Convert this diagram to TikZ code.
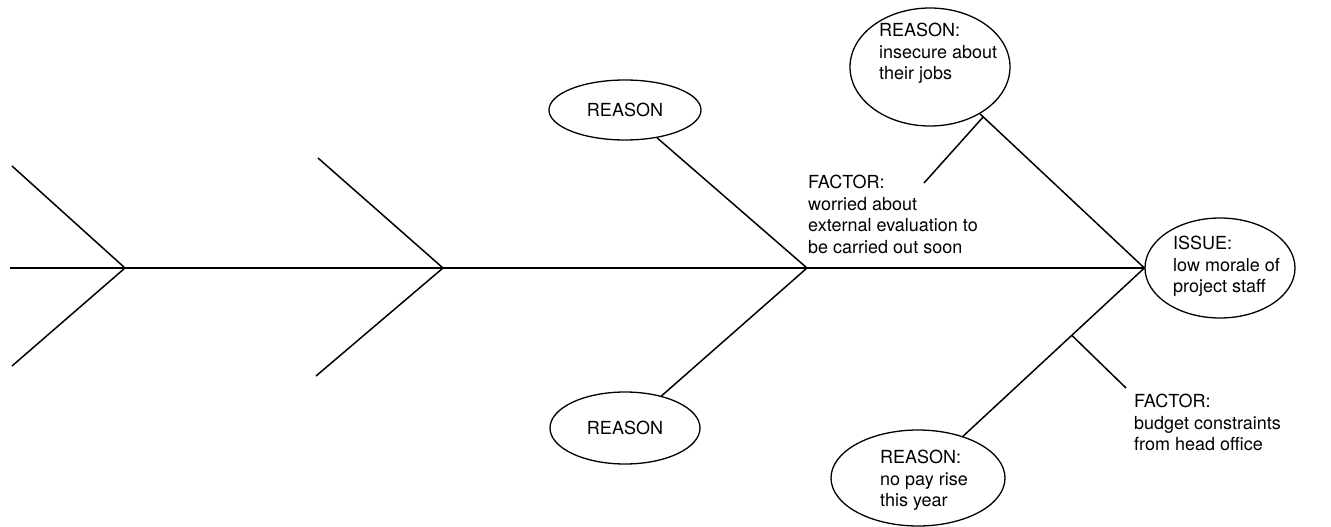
\documentclass[tikz,border=0pt]{standalone}
\usepackage{fontspec}
\setmainfont{TeX Gyre Heros}
\usetikzlibrary{shapes.geometric}
\begin{document}
\begin{tikzpicture}[x=1pt,y=-1pt,
  bone/.style={line width=1.5pt},
  oval/.style={ellipse,draw,line width=1.3pt,inner sep=0pt},
  lbl/.style={font=\fontsize{18}{21.5}\selectfont,align=left,inner sep=0pt}]
\useasboundingbox (0,0) rectangle (1331,527);
\coordinate (S) at (10,268);
\coordinate (A1) at (125,268);
\coordinate (A2) at (443,268);
\coordinate (A3) at (807,268);
\coordinate (B1t) at (12,166);
\coordinate (B1b) at (12,366);
\coordinate (B2t) at (318,158);
\coordinate (B2b) at (316,376);
\node[oval,minimum width=150pt,minimum height=100pt] (I) at (1220,268) {};
\node[lbl,anchor=north west] (It) at (1173,236) {ISSUE:\\low morale of\\project staff};
\node[oval,lbl,minimum width=152pt,minimum height=60pt] (R1) at (625,110) {REASON};
\node[oval,lbl,minimum width=150pt,minimum height=72pt] (R2) at (625,428) {REASON};
\node[oval,minimum width=160pt,minimum height=118pt] (R3) at (930,67) {};
\node[lbl,anchor=north west] (R3t) at (879,23) {REASON:\\insecure about\\their jobs};
\node[oval,minimum width=174pt,minimum height=96pt] (R4) at (918,478) {};
\node[lbl,anchor=north west] (R4t) at (880,450) {REASON:\\no pay rise\\this year};
\node[lbl,anchor=north west] (F1) at (808,175) {FACTOR:\\worried about\\external evaluation to\\be carried out soon};
\node[lbl,anchor=north west] (F2) at (1134,394) {FACTOR:\\budget constraints\\from head office};
\draw[bone] (S) -- (I.west);
\draw[bone] (B1t) -- (A1) -- (B1b);
\draw[bone] (B2t) -- (A2) -- (B2b);
\draw[bone] (R1) -- (A3) -- (R2);
\draw[bone] (R3) -- coordinate[pos=0.02] (J1) (I.west);
\draw[bone] (I.west) -- coordinate[pos=0.4] (J2) (R4);
\coordinate (F1e) at (924,183);
\draw[bone] (F1e) -- (J1);
\coordinate (F2e) at (1126,388);
\draw[bone] (J2) -- (F2e);
\end{tikzpicture}
\end{document}
